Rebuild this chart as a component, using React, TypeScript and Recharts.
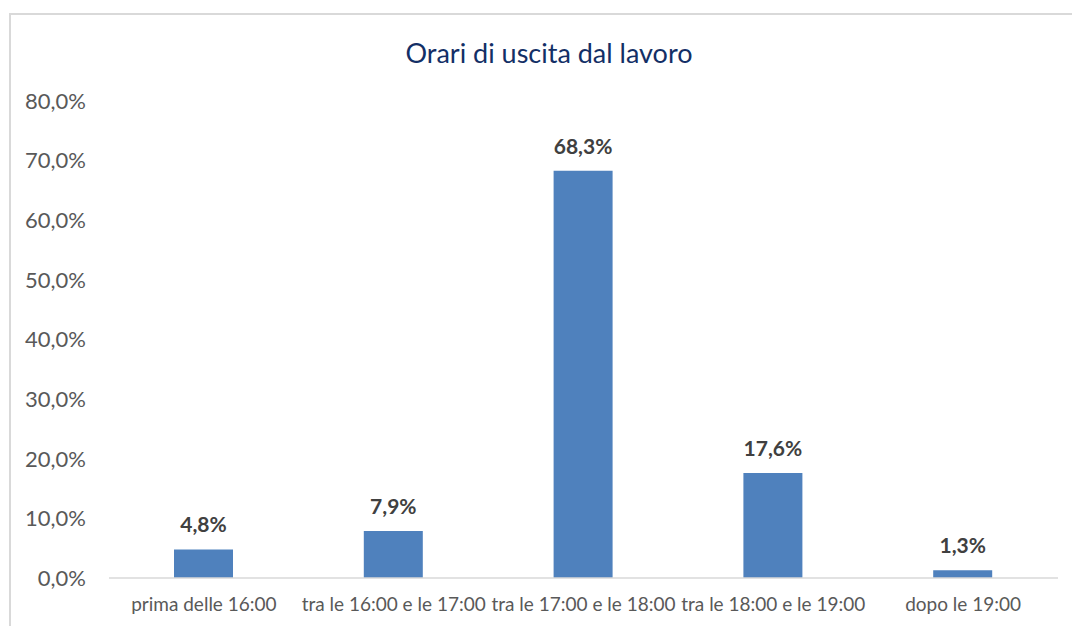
import { BarChart, Bar, XAxis, YAxis, LabelList } from 'recharts';

// Orari di uscita dal lavoro — istogramma semplice, valori in percentuale.

const categorie = [
  'prima delle 16:00',
  'tra le 16:00 e le 17:00',
  'tra le 17:00 e le 18:00',
  'tra le 18:00 e le 19:00',
  'dopo le 19:00',
];
const percentuali = [4.8, 7.9, 68.3, 17.6, 1.3];
const tickY = [0, 10, 20, 30, 40, 50, 60, 70, 80];

const dati = categorie.map((c, i) => ({ nome: c, valore: percentuali[i] }));

const FONT = 'Lato, "Open Sans", sans-serif';
const fmt = (v: number) => v.toFixed(1).replace('.', ',') + '%';

export default function App() {
  return (
    <div style={{ position: 'absolute', left: 0, top: 0, width: 1072, height: 626, background: '#fff', fontFamily: FONT }}>
      {/* cornice del grafico, tagliata a destra e in basso come nell'originale */}
      <div
        style={{
          position: 'absolute', left: 9, top: 13, right: 0, bottom: 0,
          borderTop: '2px solid #D9D9D9', borderLeft: '2px solid #D9D9D9',
        }}
      />
      <div
        style={{
          position: 'absolute', left: 0, width: 1098, top: 35, textAlign: 'center',
          fontSize: 27, color: '#132F66', lineHeight: '36px',
        }}
      >
        Orari di uscita dal lavoro
      </div>
      <div style={{ position: 'absolute', left: 0, top: 0 }}>
        <BarChart width={1072} height={626} data={dati} margin={{ top: 101, right: 14, bottom: 18, left: 0 }}>
          <XAxis
            dataKey="nome"
            height={30}
            interval={0}
            tickLine={false}
            tickSize={0}
            tickMargin={20}
            axisLine={{ stroke: '#D9D9D9', strokeWidth: 1.5 }}
            tick={{ fill: '#595959', fontSize: 19, fontFamily: FONT }}
          />
          <YAxis
            width={109}
            domain={[0, 80]}
            ticks={tickY}
            tickFormatter={fmt}
            axisLine={false}
            tickLine={false}
            tickSize={0}
            tickMargin={23}
            tick={{ fill: '#595959', fontSize: 22, fontFamily: FONT }}
          />
          <Bar dataKey="valore" fill="#4F81BD" barSize={59} isAnimationActive={false}>
            <LabelList
              dataKey="valore"
              position="top"
              offset={17}
              formatter={(v: number) => fmt(v)}
              style={{ fill: '#404040', fontSize: 21, fontWeight: 700, fontFamily: FONT }}
            />
          </Bar>
        </BarChart>
      </div>
    </div>
  );
}
